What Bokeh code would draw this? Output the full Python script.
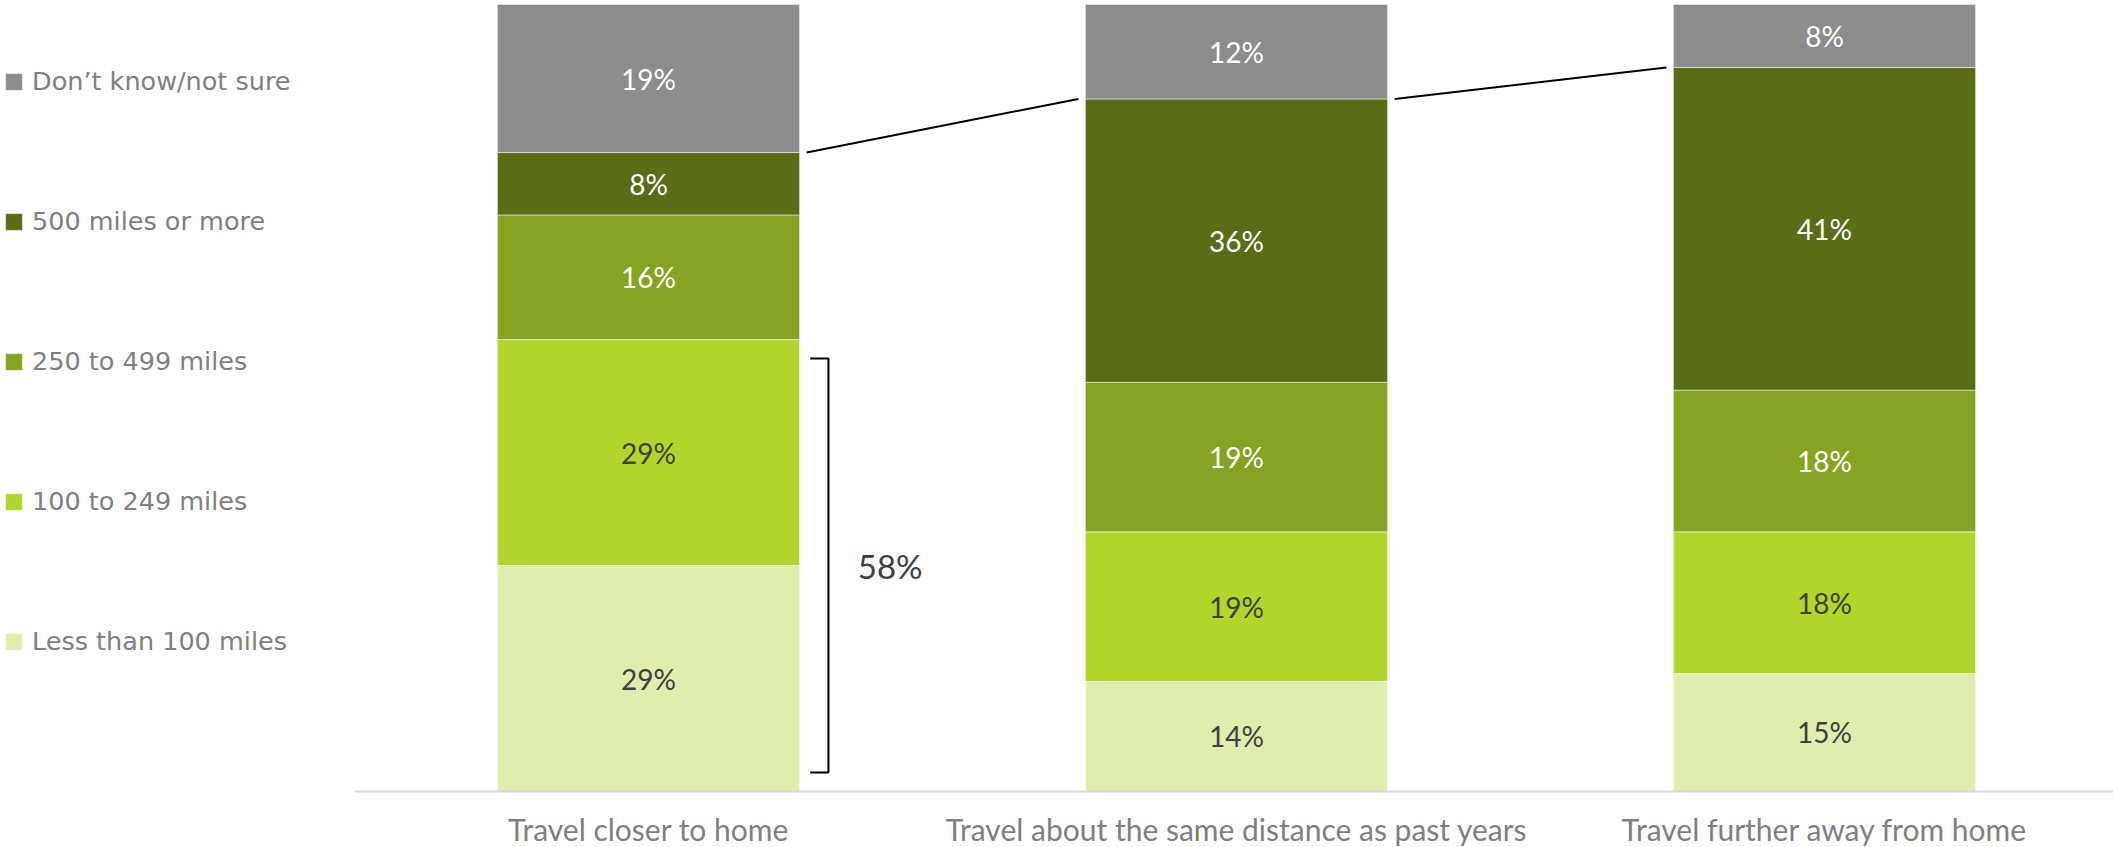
from bokeh.plotting import figure
from bokeh.models import ColumnDataSource, Legend, LegendItem, Range1d
from bokeh.embed import file_html
from bokeh.resources import INLINE
from bokeh.core.properties import value

# ---------------- data ----------------
categories = ["Travel closer to home",
              "Travel about the same distance as past years",
              "Travel further away from home"]
series = ["Less than 100 miles", "100 to 249 miles", "250 to 499 miles",
          "500 miles or more", "Don\u2019t know/not sure"]
less_100 = [29, 14, 15]
m100_249 = [29, 19, 18]
m250_499 = [16, 19, 18]
m500_plus = [8, 36, 41]
dont_know = [19, 12, 8]

# ---------------- style / layout (pixels) ----------------
colors = ["#DFEDAD", "#B1D52B", "#85A221", "#596D17", "#8C8C8C"]
label_colors = ["#404040", "#404040", "#FFFFFF", "#FFFFFF", "#FFFFFF"]
W, H = 2113, 847
BASE_PX = 791        # pixel row of the 0% baseline (from top)
TOP_PX = 4           # pixel row of the 100% line
FIRST_PX = 648       # pixel column of first category centre
SPACING_PX = 588     # pixels between category centres
BAR_W = 0.514

values = [less_100, m100_249, m250_499, m500_plus, dont_know]
n = len(categories)
totals = [sum(v[i] for v in values) for i in range(n)]
keys = ["s%d" % k for k in range(len(series))]

data = {"x": list(range(n))}
for k, v in zip(keys, values):
    data[k] = [v[i] / totals[i] * 100 for i in range(n)]
source = ColumnDataSource(data)

ppu = (BASE_PX - TOP_PX) / 100.0
x_start = -FIRST_PX / SPACING_PX
x_end = x_start + W / SPACING_PX
y_start = -(H - BASE_PX) / ppu
y_end = 100 + TOP_PX / ppu

p = figure(width=W, height=H, output_backend="svg", toolbar_location=None,
           x_range=Range1d(x_start, x_end), y_range=Range1d(y_start, y_end),
           min_border=0, x_axis_location=None, y_axis_location=None,
           outline_line_color=None,
           background_fill_color="white", border_fill_color="white")
p.xgrid.visible = False
p.ygrid.visible = False

renderers = p.vbar_stack(keys, x="x", width=BAR_W, source=source,
                         fill_color=colors, line_color="white",
                         line_alpha=0.5, line_width=1)

# category axis baseline and labels
p.segment(x0=[-0.5], y0=[0], x1=[x_end], y1=[0],
          line_color="#D9D9D9", line_width=2)
p.text(x=list(range(n)), y=[-37 / ppu] * n, text=categories,
       text_color="#7F7F7F", text_align="center", text_baseline="middle",
       text_font=value("Lato"), text_font_size="30px")

# data labels
lx, ly, lt, lc = [], [], [], []
for i in range(n):
    base = 0.0
    for k, v in enumerate(values):
        share = v[i] / totals[i] * 100
        lx.append(i)
        ly.append(base + share / 2)
        lt.append("%d%%" % v[i])
        lc.append(label_colors[k])
        base += share
p.text(x=lx, y=ly, text=lt, text_color=lc, text_align="center",
       text_baseline="middle", text_font=value("Lato"),
       text_font_size="28px")

# connector lines between tops of "500 miles or more"
tops = [sum(v[i] for v in values[:4]) / totals[i] * 100 for i in range(n)]
gap = 0.012
for i in range(n - 1):
    p.line([i + BAR_W / 2 + gap, i + 1 - BAR_W / 2 - gap],
           [tops[i], tops[i + 1]], line_color="black", line_width=2)

# bracket on first bar: Less than 100 + 100 to 249
near_sum = less_100[0] + m100_249[0]
near_share = (less_100[0] + m100_249[0]) / totals[0] * 100
xb = BAR_W / 2 + 0.049
inset = 2.4
p.line([xb - 0.031, xb, xb, xb - 0.031],
       [near_share - inset, near_share - inset, inset, inset],
       line_color="black", line_width=2)
p.text(x=[xb + 0.05], y=[near_share / 2], text=["%d%%" % near_sum],
       text_color="#404040", text_align="left", text_baseline="middle",
       text_font=value("Lato"), text_font_size="33px")

# legend (top to bottom: reverse of stack order)
items = [LegendItem(label=series[k], renderers=[renderers[k]])
         for k in reversed(range(len(series)))]
legend = Legend(items=items, location=(3, 189), padding=0, margin=0,
                spacing=106, label_height=34, glyph_height=21, glyph_width=21,
                label_standoff=8, border_line_color=None,
                background_fill_alpha=0,
                label_text_font="DejaVu Sans", label_text_font_size="25.5px",
                label_text_color="#7F7F7F")
p.add_layout(legend)

open("out.html", "w").write(file_html(p, INLINE))
